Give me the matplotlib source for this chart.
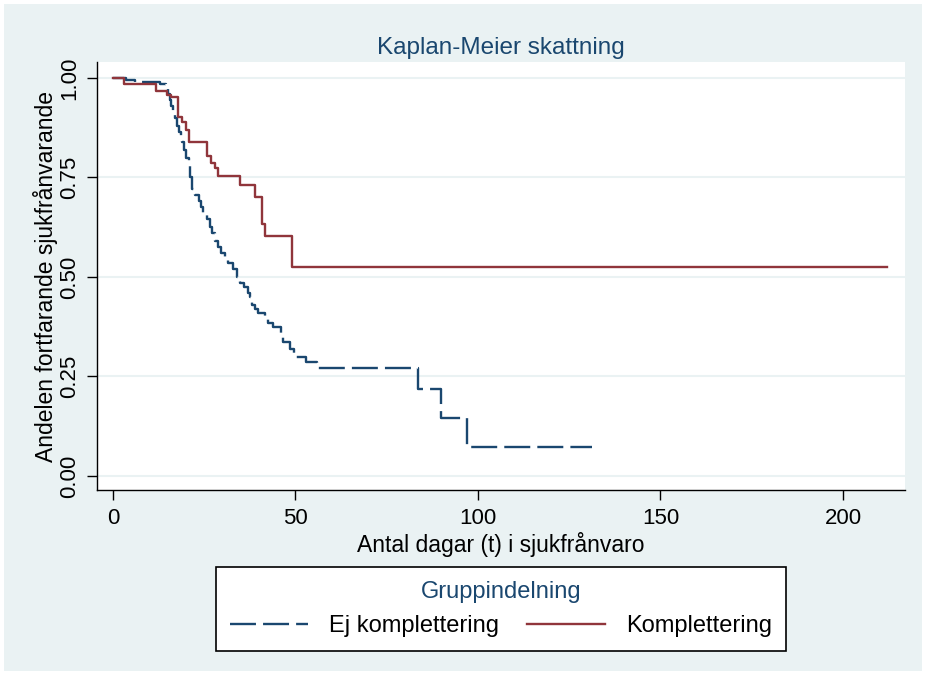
import matplotlib
matplotlib.use('Agg')
import matplotlib.pyplot as plt
from matplotlib.patches import Rectangle

plt.rcParams['font.family'] = ['Liberation Sans', 'DejaVu Sans']

# ---- data ----
title = "Kaplan-Meier skattning"
xlabel = "Antal dagar (t) i sjukfrånvaro"
ylabel = "Andelen fortfarande sjukfrånvarande"
legend_title = "Gruppindelning"
series_names = ["Ej komplettering", "Komplettering"]

xticks = [0, 50, 100, 150, 200]
yticks = [0.0, 0.25, 0.50, 0.75, 1.0]
ytick_labels = ["0.00", "0.25", "0.50", "0.75", "1.00"]

ej_t = [0, 3.5, 6, 13, 14.5, 15, 15.5, 16, 16.5, 17, 17.5, 18, 18.6, 19, 19.5, 20,
        20.8, 21.2, 21.6, 22.5, 23.5, 24, 24.7, 25.8, 26.5, 27.2, 28, 28.8, 29.5,
        30.7, 31.5, 32.9, 34, 34.8, 36, 37, 37.5, 38.2, 39, 39.7, 41.6, 42.5, 43.8,
        45.9, 46.6, 48.5, 49.5, 52.8, 55.8, 83.6, 89.9, 96.9]
ej_s = [1.0, 0.995, 0.99, 0.985, 0.975, 0.96, 0.945, 0.93, 0.915, 0.90, 0.88, 0.865,
        0.855, 0.84, 0.82, 0.80, 0.78, 0.75, 0.72, 0.705, 0.69, 0.676, 0.66, 0.645,
        0.625, 0.61, 0.59, 0.575, 0.56, 0.55, 0.535, 0.52, 0.50, 0.485, 0.475, 0.46,
        0.45, 0.43, 0.42, 0.41, 0.40, 0.385, 0.374, 0.35, 0.337, 0.32, 0.30, 0.287,
        0.272, 0.218, 0.145, 0.072]
ej_end = 131.2

komp_t = [0, 3, 11.7, 14.7, 15.8, 17.7, 18.8, 20, 20.8, 25.8, 26.8, 27.9, 28.9,
          34.8, 38.8, 40.8, 41.7, 49]
komp_s = [1.0, 0.986, 0.967, 0.958, 0.953, 0.903, 0.889, 0.869, 0.840, 0.805, 0.787,
          0.773, 0.754, 0.731, 0.700, 0.633, 0.603, 0.525]
komp_end = 212

# ---- styling ----
BG = '#EAF2F3'
NAVY = '#1A476F'
MAROON = '#90353B'
W, H = 926, 675

fig = plt.figure(figsize=(W / 100, H / 100), dpi=100)
fig.patch.set_facecolor('white')
fig.patches.append(Rectangle((4 / W, 4 / H), 1 - 8 / W, 1 - 8 / H,
                             transform=fig.transFigure, facecolor=BG,
                             edgecolor='none', zorder=-10))

ax = fig.add_axes([97 / W, 1 - 490 / H, 808 / W, 428 / H])
ax.set_facecolor('white')

ax.step(ej_t + [ej_end], ej_s + [ej_s[-1]], where='post', color=NAVY, lw=1.7,
        dashes=(11, 3), label=series_names[0], zorder=3)
ax.step(komp_t + [komp_end], komp_s + [komp_s[-1]], where='post', color=MAROON,
        lw=1.7, label=series_names[1], zorder=3)

ax.set_xlim(-4.38, 217)
ax.set_ylim(-0.0352, 1.0402)
ax.set_xticks(xticks)
ax.set_yticks(yticks)
ax.set_yticklabels(ytick_labels, rotation=90, va='center')
ax.tick_params(axis='both', labelsize=16, length=7, width=1, color='black',
               direction='out')
ax.tick_params(axis='x', pad=6)
ax.tick_params(axis='y', pad=5)

ax.grid(axis='y', color=BG, lw=1.5, zorder=0)
ax.set_axisbelow(True)
for s in ['top', 'right']:
    ax.spines[s].set_visible(False)
for s in ['left', 'bottom']:
    ax.spines[s].set_linewidth(1.0)
    ax.spines[s].set_color('black')

ax.set_title(title, fontsize=17.5, color=NAVY, pad=6)
ax.set_xlabel(xlabel, fontsize=16.5, labelpad=2)
ax.set_ylabel(ylabel, fontsize=16.5, labelpad=1)

leg = fig.legend(loc='center', bbox_to_anchor=(501 / W, 1 - 609 / H), ncol=2,
                 title=legend_title, fontsize=17, title_fontsize=17,
                 frameon=True, fancybox=False, edgecolor='black', framealpha=1,
                 handlelength=3.3, handletextpad=0.9, columnspacing=1.2,
                 borderpad=0.6, borderaxespad=0)
leg.get_title().set_color(NAVY)
leg.get_frame().set_linewidth(1.2)
leg.get_frame().set_facecolor('white')

fig.savefig('out.png', dpi=100, facecolor=fig.get_facecolor())
